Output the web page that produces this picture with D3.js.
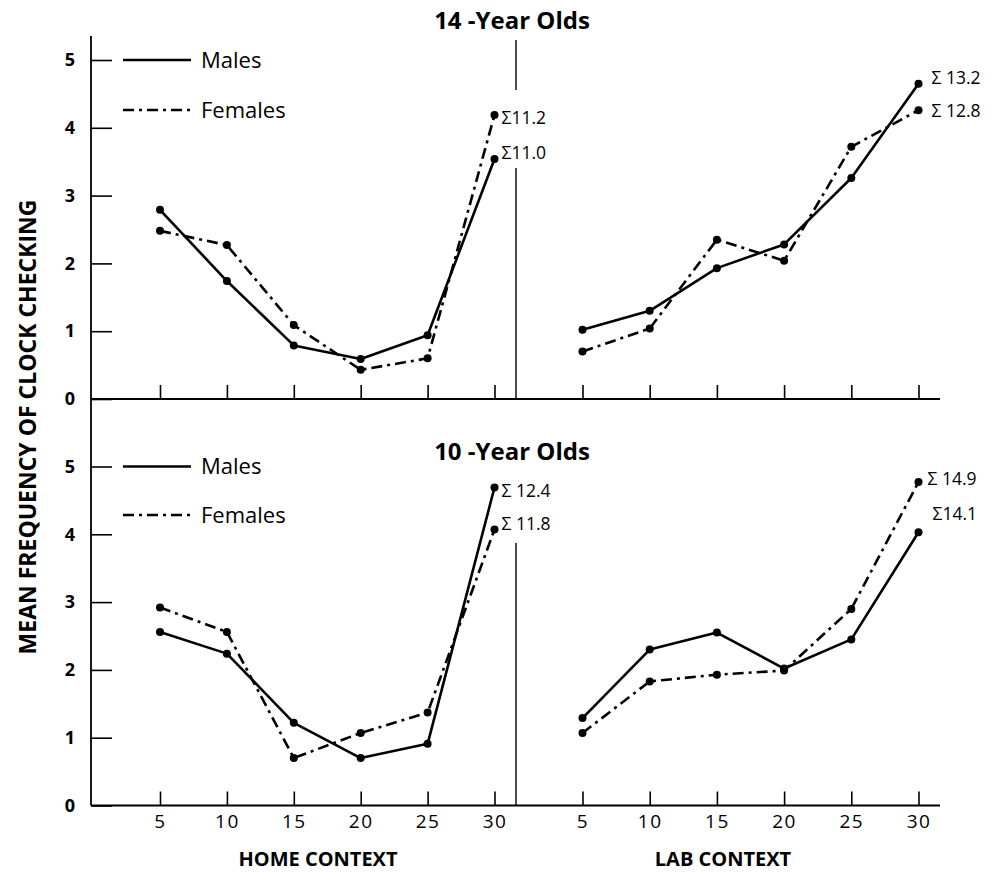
<!DOCTYPE html>
<html>
<head>
<meta charset="utf-8">
<script src="https://cdn.jsdelivr.net/npm/d3@7"></script>
<style>
  body { margin: 0; background: #fff; }
  svg { font-family: "Open Sans", "Noto Sans", sans-serif; }
</style>
</head>
<body>
<svg id="chart" width="997" height="873"></svg>
<script>
// minutes into the session, same for both contexts
const minutes = [5, 10, 15, 20, 25, 30]
const yTicks = [0, 1, 2, 3, 4, 5]

// 14 year olds
const home14Males   = [2.79, 1.74, 0.79, 0.59, 0.94, 3.54]
const home14Females = [2.48, 2.27, 1.09, 0.43, 0.60, 4.19]
const lab14Males    = [1.02, 1.30, 1.93, 2.28, 3.26, 4.65]
const lab14Females  = [0.70, 1.04, 2.35, 2.04, 3.72, 4.26]

// 10 year olds
const home10Males   = [2.56, 2.24, 1.22, 0.70, 0.91, 4.69]
const home10Females = [2.92, 2.56, 0.70, 1.07, 1.37, 4.07]
const lab10Males    = [1.29, 2.30, 2.55, 2.02, 2.45, 4.03]
const lab10Females  = [1.07, 1.83, 1.93, 1.99, 2.90, 4.77]

const panelTitles = ["14 -Year Olds", "10 -Year Olds"]
const sums14 = { homeF: "\u03A311.2", homeM: "\u03A311.0", labM: "\u03A3 13.2", labF: "\u03A3 12.8" }
const sums10 = { homeM: "\u03A3 12.4", homeF: "\u03A3 11.8", labF: "\u03A3 14.9", labM: "\u03A314.1" }

const svg = d3.select("#chart")

const axisX = 91, axisEnd = 940, dividerX = 516
const xHome = d3.scaleLinear().domain([5, 30]).range([160, 494.5])
const xLab = d3.scaleLinear().domain([5, 30]).range([582.5, 918.5])

const dashDot = "11,5,3,5"

function drawPanel(cfg) {
  var y = d3.scaleLinear().domain([0, 5]).range([cfg.y0, cfg.y5])
  var g = svg.append("g")

  // y axis with ticks pointing into the plot
  var ya = g.append("g")
      .attr("transform", `translate(${axisX},0)`)
      .call(d3.axisLeft(y).tickValues(yTicks).tickFormat(d3.format("d"))
              .tickSizeInner(-21).tickSizeOuter(0).tickPadding(16))
      .attr("font-family", null)
  ya.select(".domain").remove()
  ya.selectAll("line").attr("stroke", "#000").attr("stroke-width", 1.6)
  ya.selectAll("text").attr("font-size", 18).attr("font-weight", "bold").attr("fill", "#000")

  // vertical axis line
  g.append("line")
      .attr("x1", axisX).attr("x2", axisX)
      .attr("y1", cfg.axisTop).attr("y2", cfg.y0)
      .attr("stroke", "#000").attr("stroke-width", 1.8)

  // baseline
  g.append("line")
      .attr("x1", axisX).attr("x2", axisEnd)
      .attr("y1", cfg.y0).attr("y2", cfg.y0)
      .attr("stroke", "#000").attr("stroke-width", 1.8)

  ;[xHome, xLab].forEach(x => {
    var xa = g.append("g")
        .attr("transform", `translate(0,${cfg.y0})`)
        .call(d3.axisBottom(x).tickValues(minutes).tickSizeInner(-14).tickSizeOuter(0).tickPadding(9))
        .attr("font-family", null)
    xa.select(".domain").remove()
    xa.selectAll("line").attr("stroke", "#000").attr("stroke-width", 1.6)
    xa.selectAll("text")
        .attr("font-size", 19).attr("fill", "#000")
        .attr("letter-spacing", 1.5)
        .style("display", cfg.showXLabels ? null : "none")
  })

  // divider between home and lab
  cfg.divider.forEach(seg => {
    g.append("line")
        .attr("x1", dividerX).attr("x2", dividerX)
        .attr("y1", seg[0]).attr("y2", seg[1])
        .attr("stroke", "#000").attr("stroke-width", 1.4)
  })

  // title
  g.append("text")
      .attr("x", 512).attr("y", cfg.titleY)
      .attr("text-anchor", "middle")
      .attr("font-size", 24).attr("font-weight", "bold")
      .text(cfg.title)

  // legend
  var leg = [
    { label: "Males", dash: null, ly: cfg.legendY[0] },
    { label: "Females", dash: dashDot, ly: cfg.legendY[1] }
  ]
  leg.forEach(d => {
    g.append("line")
        .attr("x1", 123).attr("x2", 191)
        .attr("y1", d.ly).attr("y2", d.ly)
        .attr("stroke", "#000").attr("stroke-width", 2.6)
        .attr("stroke-dasharray", d.dash)
    g.append("text")
        .attr("x", 201).attr("y", d.ly)
        .attr("dy", "0.35em")
        .attr("font-size", 22)
        .text(d.label)
  })

  var series = [
    { x: xHome, vals: cfg.homeM, dash: null },
    { x: xHome, vals: cfg.homeF, dash: dashDot },
    { x: xLab, vals: cfg.labM, dash: null },
    { x: xLab, vals: cfg.labF, dash: dashDot }
  ]

  series.forEach(s => {
    var pts = minutes.map((m, i) => [s.x(m), y(s.vals[i])])
    g.append("path")
        .attr("d", d3.line()(pts))
        .attr("fill", "none")
        .attr("stroke", "#000")
        .attr("stroke-width", 2.6)
        .attr("stroke-linejoin", "round")
        .attr("stroke-dasharray", s.dash)
    g.selectAll(null)
        .data(pts)
        .enter()
        .append("circle")
        .attr("cx", d => d[0])
        .attr("cy", d => d[1])
        .attr("r", 4)
        .attr("fill", "#000")
  })

  // sum labels next to the last points
  cfg.sums.forEach(d => {
    g.append("text")
        .attr("x", d.x(30) + d.dx)
        .attr("y", y(d.v) + d.dy)
        .attr("dy", "0.35em")
        .attr("font-size", 17.5)
        .text(d.t)
  })
}

drawPanel({
  y0: 399, y5: 60, axisTop: 36,
  title: panelTitles[0], titleY: 29,
  legendY: [60, 110],
  showXLabels: false,
  divider: [[40, 90], [168, 399]],
  homeM: home14Males, homeF: home14Females,
  labM: lab14Males, labF: lab14Females,
  sums: [
    { x: xHome, v: home14Females[5], t: sums14.homeF, dx: 7, dy: 3 },
    { x: xHome, v: home14Males[5], t: sums14.homeM, dx: 7, dy: -6 },
    { x: xLab, v: lab14Males[5], t: sums14.labM, dx: 13, dy: -6 },
    { x: xLab, v: lab14Females[5], t: sums14.labF, dx: 13, dy: 1 }
  ]
})

drawPanel({
  y0: 805.5, y5: 466.5, axisTop: 399,
  title: panelTitles[1], titleY: 460,
  legendY: [466.5, 515],
  showXLabels: true,
  divider: [[543, 805.5]],
  homeM: home10Males, homeF: home10Females,
  labM: lab10Males, labF: lab10Females,
  sums: [
    { x: xHome, v: home10Males[5], t: sums10.homeM, dx: 7, dy: 3 },
    { x: xHome, v: home10Females[5], t: sums10.homeF, dx: 7, dy: -6 },
    { x: xLab, v: lab10Females[5], t: sums10.labF, dx: 9, dy: -3 },
    { x: xLab, v: lab10Males[5], t: sums10.labM, dx: 14, dy: -18 }
  ]
})

// axis titles
svg.append("text")
    .attr("transform", "translate(28,427) rotate(-90)")
    .attr("text-anchor", "middle")
    .attr("dy", "0.35em")
    .attr("font-size", 23).attr("font-weight", "bold")
    .text("MEAN FREQUENCY OF CLOCK CHECKING")

svg.append("text")
    .attr("x", 318).attr("y", 866)
    .attr("text-anchor", "middle")
    .attr("font-size", 20).attr("font-weight", "bold")
    .text("HOME CONTEXT")

svg.append("text")
    .attr("x", 723).attr("y", 866)
    .attr("text-anchor", "middle")
    .attr("font-size", 20).attr("font-weight", "bold")
    .text("LAB CONTEXT")
</script>
</body>
</html>
